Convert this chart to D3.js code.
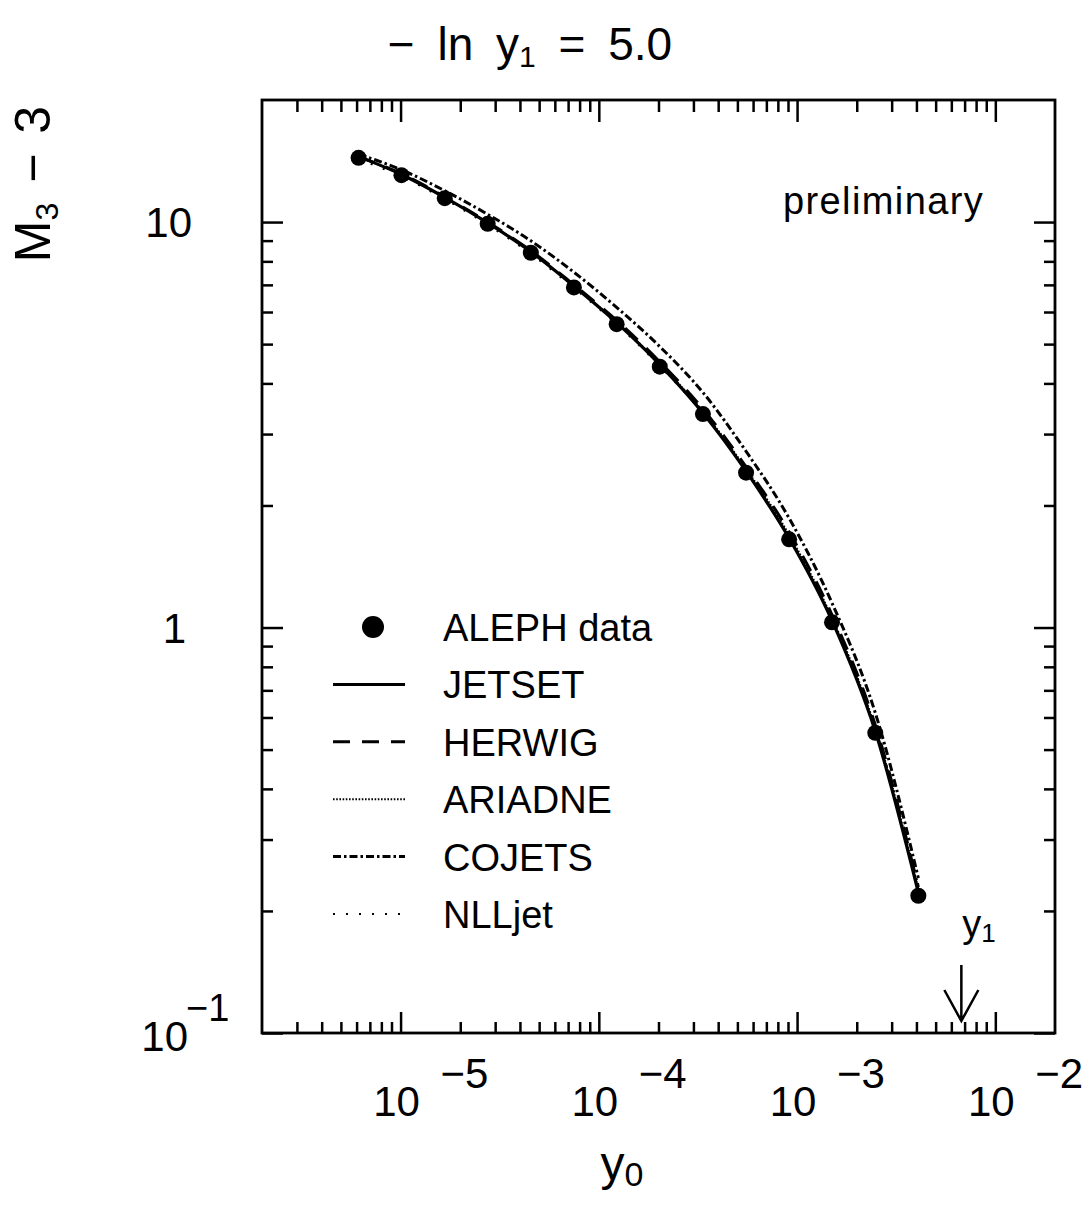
<!DOCTYPE html>
<html>
<head>
<meta charset="utf-8">
<script src="https://cdn.jsdelivr.net/npm/d3@7"></script>
<style>
  body { margin: 0; background: #fff; }
  svg { display: block; }
  text { font-family: 'Liberation Sans', Arial, sans-serif; fill: #000; }
  .domain { display: none; }
  .tick line { stroke: #000; stroke-width: 2.5; }
</style>
</head>
<body>
<div id="chart"></div>
<script>
// y0 values (-ln y0 = 12.0 ... 5.5)
const y0Values = [6.14e-6, 1.01e-5, 1.67e-5, 2.75e-5, 4.54e-5, 7.49e-5, 1.23e-4,
                  2.03e-4, 3.35e-4, 5.53e-4, 9.12e-4, 1.50e-3, 2.48e-3, 4.09e-3];
const alephData = [14.4, 13.05, 11.45, 9.9, 8.4, 6.9, 5.6, 4.4, 3.36, 2.41, 1.65, 1.03, 0.55, 0.218];
const jetset  = [14.5, 13.1, 11.5, 9.95, 8.45, 6.95, 5.65, 4.45, 3.38, 2.43, 1.66, 1.04, 0.555, 0.222];
const herwig  = [14.5, 13.15, 11.55, 10.0, 8.5, 7.0, 5.72, 4.52, 3.46, 2.49, 1.72, 1.075, 0.575, 0.229];
const ariadne = [14.5, 13.1, 11.5, 9.95, 8.45, 6.95, 5.66, 4.47, 3.41, 2.46, 1.69, 1.055, 0.565, 0.226];
const cojets  = [14.7, 13.45, 11.95, 10.45, 8.99, 7.52, 6.16, 4.93, 3.80, 2.72, 1.86, 1.15, 0.616, 0.241];
const nlljet  = [14.3, 12.95, 11.4, 9.85, 8.35, 6.88, 5.6, 4.42, 3.38, 2.44, 1.67, 1.05, 0.565, 0.23];

const xMajor = [1e-5, 1e-4, 1e-3, 1e-2];
const xLabels = ['−5', '−4', '−3', '−2'];
const yMajor = [0.1, 1, 10];
const y1 = 6.74e-3;   // -ln y1 = 5.0

const legendItems = [
  { name: 'ALEPH data', dash: null, marker: true },
  { name: 'JETSET', dash: null },
  { name: 'HERWIG', dash: '17,12' },
  { name: 'ARIADNE', dash: '1.6,1.6', width: 2 },
  { name: 'COJETS', dash: '8,3,2.5,3' },
  { name: 'NLLjet', dash: '2,11', width: 2 }
];
const series = [
  { values: jetset, dash: null, width: 3.2 },
  { values: herwig, dash: '17,12', width: 3 },
  { values: ariadne, dash: '1.6,1.6', width: 2.2 },
  { values: cojets, dash: '8,3,2.5,3', width: 3 },
  { values: nlljet, dash: '2,11', width: 2.2 }
];

const width = 1092, height = 1205;
const pLeft = 262, pRight = 1055, pTop = 100, pBottom = 1033;

const svg = d3.select('#chart').append('svg')
  .attr('width', width)
  .attr('height', height);

const x = d3.scaleLog().domain([2e-6, 2e-2]).range([pLeft, pRight]);
const y = d3.scaleLog().domain([0.1, 20]).range([pBottom, pTop]);

// minor tick values
const xMinor = [];
[1e-6, 1e-5, 1e-4, 1e-3, 1e-2].forEach(d => {
  for (let k = 2; k <= 9; k++) {
    const v = d * k;
    if (v > 2e-6 && v < 2e-2) xMinor.push(v);
  }
});
const yMinor = [];
[0.1, 1, 10].forEach(d => {
  for (let k = 2; k <= 9; k++) {
    const v = d * k;
    if (v < 20) yMinor.push(v);
  }
});

function addAxis(axisFn, pos, vals, size) {
  svg.append('g')
    .attr('transform', pos)
    .call(axisFn.tickValues(vals).tickSize(size).tickFormat(''));
}
addAxis(d3.axisBottom(x), `translate(0,${pBottom})`, xMajor, -21);
addAxis(d3.axisBottom(x), `translate(0,${pBottom})`, xMinor, -11);
addAxis(d3.axisTop(x), `translate(0,${pTop})`, xMajor, -22);
addAxis(d3.axisTop(x), `translate(0,${pTop})`, xMinor, -12);
addAxis(d3.axisLeft(y), `translate(${pLeft},0)`, yMajor, -21);
addAxis(d3.axisLeft(y), `translate(${pLeft},0)`, yMinor, -11);
addAxis(d3.axisRight(y), `translate(${pRight},0)`, yMajor, -21);
addAxis(d3.axisRight(y), `translate(${pRight},0)`, yMinor, -11);

// frame
svg.append('rect')
  .attr('x', pLeft).attr('y', pTop)
  .attr('width', pRight - pLeft).attr('height', pBottom - pTop)
  .attr('fill', 'none')
  .attr('stroke', '#000')
  .attr('stroke-width', 2.8);

// x tick labels
xMajor.forEach((v, i) => {
  svg.append('text')
    .attr('x', x(v) - 4).attr('y', 1116)
    .attr('text-anchor', 'middle')
    .style('font-size', '42px')
    .text('10');
  svg.append('text')
    .attr('x', x(v) + 40).attr('y', 1088)
    .style('font-size', '42px')
    .text(xLabels[i]);
});

// y tick labels
svg.append('text').attr('x', 192).attr('y', y(10) + 15)
  .attr('text-anchor', 'end').style('font-size', '42px').text('10');
svg.append('text').attr('x', 186).attr('y', y(1) + 15)
  .attr('text-anchor', 'end').style('font-size', '42px').text('1');
svg.append('text').attr('x', 188).attr('y', y(0.1) + 18)
  .attr('text-anchor', 'end').style('font-size', '42px').text('10');
svg.append('text').attr('x', 186).attr('y', y(0.1) - 12)
  .style('font-size', '38px').text('−1');

// axis titles
const xt = svg.append('text')
  .attr('x', 622).attr('y', 1180)
  .attr('text-anchor', 'middle')
  .style('font-size', '48px');
xt.append('tspan').text('y');
xt.append('tspan').attr('dy', 6).style('font-size', '34px').text('0');

const yt = svg.append('text')
  .attr('transform', 'translate(50,184) rotate(-90)')
  .attr('text-anchor', 'middle')
  .style('font-size', '50px')
  .style('word-spacing', '6px');
yt.append('tspan').text('M');
yt.append('tspan').attr('dy', 8).style('font-size', '32px').text('3');
yt.append('tspan').attr('dy', -8).text(' − 3');

// title
const tt = svg.append('text')
  .attr('x', 530).attr('y', 60)
  .attr('text-anchor', 'middle')
  .style('font-family', "'Liberation Sans Narrow', 'Liberation Sans', sans-serif")
  .style('font-size', '46px')
  .style('word-spacing', '10px');
tt.append('tspan').text('− ln y');
tt.append('tspan').attr('dy', 7).style('font-size', '30px').text('1');
tt.append('tspan').attr('dy', -7).text(' = 5.0');

svg.append('text')
  .attr('x', 783).attr('y', 214)
  .style('font-size', '38px')
  .style('letter-spacing', '1.4px')
  .text('preliminary');

// model curves
const line = d3.line()
  .x(d => x(d[0]))
  .y(d => y(d[1]))
  .curve(d3.curveMonotoneX);

series.forEach(s => {
  svg.append('path')
    .datum(y0Values.map((v, i) => [v, s.values[i]]))
    .attr('d', line)
    .attr('fill', 'none')
    .attr('stroke', '#000')
    .attr('stroke-width', s.width)
    .attr('stroke-dasharray', s.dash);
});

// data points
svg.append('g').selectAll('circle')
  .data(y0Values.map((v, i) => [v, alephData[i]]))
  .join('circle')
  .attr('cx', d => x(d[0]))
  .attr('cy', d => y(d[1]))
  .attr('r', 8)
  .attr('fill', '#000');

// legend
const legend = svg.append('g');
legendItems.forEach((item, i) => {
  const ly = 627 + i * 57.4;
  if (item.marker) {
    legend.append('circle').attr('cx', 373).attr('cy', ly).attr('r', 11).attr('fill', '#000');
  } else {
    legend.append('line')
      .attr('x1', 333).attr('x2', 405)
      .attr('y1', ly).attr('y2', ly)
      .attr('stroke', '#000')
      .attr('stroke-width', item.width || 3)
      .attr('stroke-dasharray', item.dash);
  }
  legend.append('text')
    .attr('x', 443).attr('y', ly + 14)
    .style('font-size', '38px')
    .text(item.name);
});

// y1 arrow
const ax = x(y1);
svg.append('path')
  .attr('d', `M${ax},965 L${ax},1021 M${ax - 17},990 L${ax},1021 L${ax + 17},990`)
  .attr('fill', 'none')
  .attr('stroke', '#000')
  .attr('stroke-width', 2.5);
const yl = svg.append('text')
  .attr('x', ax + 1).attr('y', 937)
  .style('font-size', '38px');
yl.append('tspan').text('y');
yl.append('tspan').attr('dy', 5).style('font-size', '26px').text('1');
</script>
</body>
</html>
